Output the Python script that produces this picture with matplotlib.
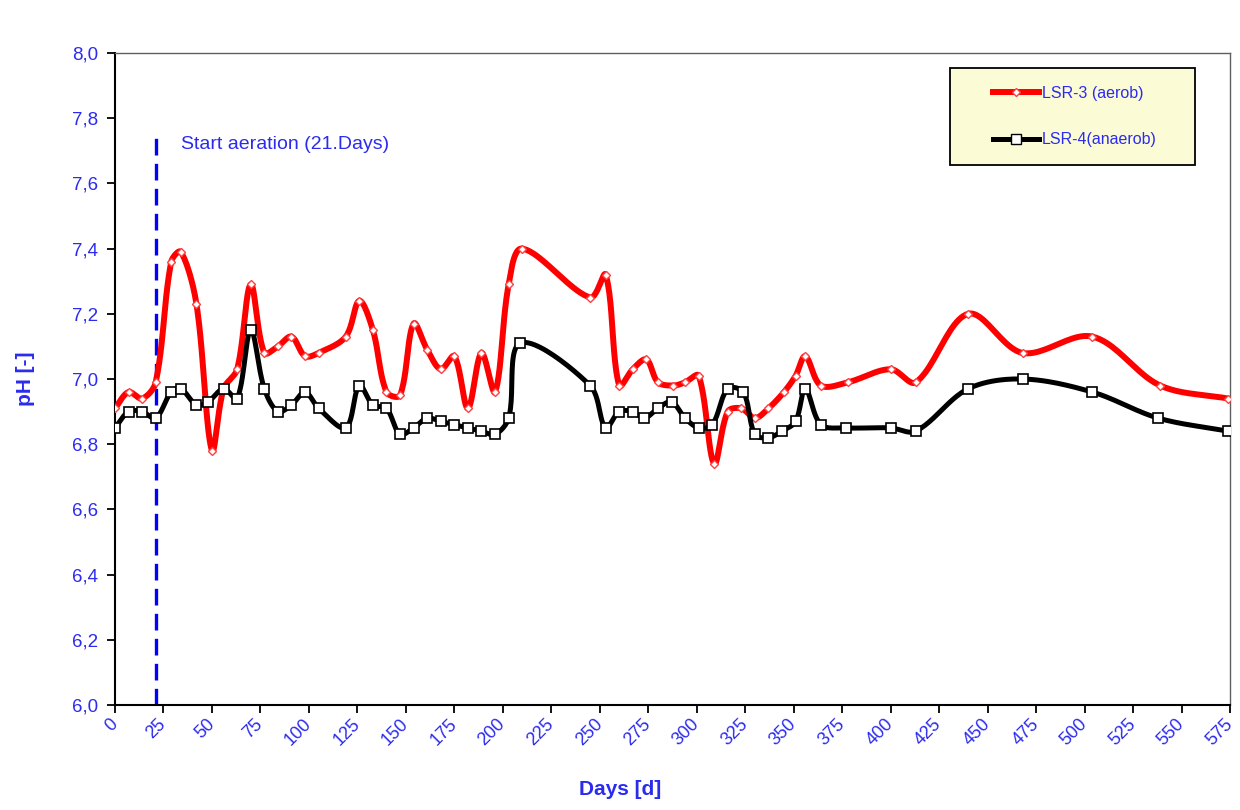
import numpy as np
import matplotlib
matplotlib.use("Agg")
import matplotlib.pyplot as plt
from matplotlib.patches import Rectangle
from matplotlib.lines import Line2D

# ---------------- data ----------------
red_days = [0, 7, 14, 21, 29, 34, 42, 50, 56, 63, 70, 77, 84, 91, 98, 105, 119, 126, 133, 140,
            147, 154, 161, 168, 175, 182, 189, 196, 203, 210, 245, 253, 260, 267, 274, 280, 288, 294,
            301, 309, 316, 323, 330, 337, 345, 351, 356, 364, 378, 400, 413, 440, 468, 504, 539, 574]
red_ph = [6.91, 6.96, 6.94, 6.99, 7.36, 7.39, 7.23, 6.78, 6.97, 7.03, 7.29, 7.08, 7.10, 7.13, 7.07,
          7.08, 7.13, 7.24, 7.15, 6.96, 6.95, 7.17, 7.09, 7.03, 7.07, 6.91, 7.08, 6.96, 7.29, 7.40,
          7.25, 7.32, 6.98, 7.03, 7.06, 6.99, 6.98, 6.99, 7.01, 6.74, 6.90, 6.91, 6.88, 6.91, 6.96,
          7.01, 7.07, 6.98, 6.99, 7.03, 6.99, 7.20, 7.08, 7.13, 6.98, 6.94]

black_days = [0, 7, 14, 21, 29, 34, 42, 48, 56, 63, 70, 77, 84, 91, 98, 105, 119, 126, 133, 140,
              147, 154, 161, 168, 175, 182, 189, 196, 203, 209, 245, 253, 260, 267, 273, 280, 287, 294,
              301, 308, 316, 324, 330, 337, 344, 351, 356, 364, 377, 400, 413, 440, 468, 504, 538, 574]
black_ph = [6.85, 6.90, 6.90, 6.88, 6.96, 6.97, 6.92, 6.93, 6.97, 6.94, 7.15, 6.97, 6.90, 6.92, 6.96,
            6.91, 6.85, 6.98, 6.92, 6.91, 6.83, 6.85, 6.88, 6.87, 6.86, 6.85, 6.84, 6.83, 6.88, 7.11,
            6.98, 6.85, 6.90, 6.90, 6.88, 6.91, 6.93, 6.88, 6.85, 6.86, 6.97, 6.96, 6.83, 6.82, 6.84,
            6.87, 6.97, 6.86, 6.85, 6.85, 6.84, 6.97, 7.00, 6.96, 6.88, 6.84]

labels = ["LSR-3 (aerob)", "LSR-4(anaerob)"]
x_ticks = list(range(0, 576, 25))
y_ticks = [6.0, 6.2, 6.4, 6.6, 6.8, 7.0, 7.2, 7.4, 7.6, 7.8, 8.0]
aeration_day = 21
aeration_text = "Start aeration (21.Days)"


def smooth(ax, xs, ys, n=24):
    """Excel-like smoothed line: cubic Bezier through the points, tangents weighted
    by neighbouring segment lengths (computed in screen space)."""
    P = ax.transData.transform(np.column_stack([xs, ys]).astype(float))
    m = len(P)
    L = np.hypot(*np.diff(P, axis=0).T)
    out = []
    t = np.linspace(0, 1, n, endpoint=False)[:, None]
    for i in range(m - 1):
        p1, p2 = P[i], P[i + 1]
        if i > 0:
            d1 = (p2 - P[i - 1]) * L[i] / (L[i - 1] + L[i]) / 3.0
        else:
            d1 = (p2 - p1) / 3.0
        if i + 2 < m:
            d2 = (P[i + 2] - p1) * L[i] / (L[i] + L[i + 1]) / 3.0
        else:
            d2 = (p2 - p1) / 3.0
        b1 = p1 + d1
        b2 = p2 - d2
        seg = ((1 - t) ** 3) * p1 + 3 * ((1 - t) ** 2) * t * b1 + 3 * (1 - t) * t ** 2 * b2 + t ** 3 * p2
        out.append(seg)
    out.append(P[-1:])
    c = ax.transData.inverted().transform(np.vstack(out))
    return c[:, 0], c[:, 1]


BLUE = "#2B2BF0"
plt.rcParams['font.family'] = ['Liberation Sans', 'DejaVu Sans']

fig = plt.figure(figsize=(12.4, 8.1), dpi=100)
ax = fig.add_axes([115 / 1240, 1 - 705 / 810, 1115 / 1240, 652 / 810])
ax.set_xlim(0, 575)
ax.set_ylim(6.0, 8.0)

# lines
rx, ry = smooth(ax, red_days, red_ph)
bx, by = smooth(ax, black_days, black_ph)
ax.plot(rx, ry, color="#FF0000", lw=4.3, solid_capstyle="round", zorder=3)
ax.plot(red_days, red_ph, ls="none", marker="D", ms=4.5, mfc="white", mec="#FF4040", mew=1.0, zorder=4)
ax.plot(bx, by, color="black", lw=3.6, solid_capstyle="round", zorder=5)
ax.plot(black_days, black_ph, ls="none", marker="s", ms=7.5, mfc="white", mec="black", mew=1.2, zorder=6)

# aeration marker
ax.plot([aeration_day, aeration_day], [6.0, 7.765], color="#0000FF", lw=2.4,
        dashes=(5, 2.5), zorder=2)
ax.text(34, 7.72, aeration_text, color=BLUE, fontsize=14, va="center", ha="left")

ax.set_xticks(x_ticks)
ax.set_yticks(y_ticks)
ax.set_yticklabels([f"{v:.1f}".replace(".", ",") for v in y_ticks], color=BLUE, fontsize=13.5)
ax.set_xticklabels([str(v) for v in x_ticks], color=BLUE, fontsize=13, rotation=45,
                   ha="right", va="center", rotation_mode="anchor")
ax.tick_params(axis="both", direction="out", length=6, width=1.3, color="black")
ax.tick_params(axis="y", pad=6)
ax.tick_params(axis="x", pad=6)

for s in ["left", "bottom"]:
    ax.spines[s].set_color("black")
    ax.spines[s].set_linewidth(1.5)
for s in ["top", "right"]:
    ax.spines[s].set_color("#606060")
    ax.spines[s].set_linewidth(1.0)

ax.set_ylabel("pH [-]", color=BLUE, fontsize=15, fontweight="bold")
ax.yaxis.set_label_coords(-0.072, 0.5)
ax.set_xlabel("Days [d]", color=BLUE, fontsize=15, fontweight="bold")
ax.xaxis.set_label_coords(0.453, -0.115)

# legend box
x0 = (950 - 115) / 1115
x1 = (1195 - 115) / 1115
y1 = (705 - 68) / 652
y0 = (705 - 165) / 652
ax.add_patch(Rectangle((x0, y0), x1 - x0, y1 - y0, transform=ax.transAxes,
                       facecolor="#FBFBD6", edgecolor="black", lw=1.3, zorder=7))
handles = [
    Line2D([], [], color="#FF0000", lw=4.3, marker="D", ms=4.5, mfc="white", mec="#FF4040"),
    Line2D([], [], color="black", lw=3.6, marker="s", ms=7.5, mfc="white", mec="black"),
]
leg = ax.legend(handles, labels, loc="center", bbox_to_anchor=((x0 + x1) / 2 + 0.002, (y0 + y1) / 2),
                bbox_transform=ax.transAxes, frameon=False, fontsize=11.5, labelspacing=2.0,
                handlelength=2.9, handletextpad=0.2, borderpad=0)
leg.set_zorder(8)
for t in leg.get_texts():
    t.set_color(BLUE)

fig.savefig("out.png", dpi=100, facecolor="white")
